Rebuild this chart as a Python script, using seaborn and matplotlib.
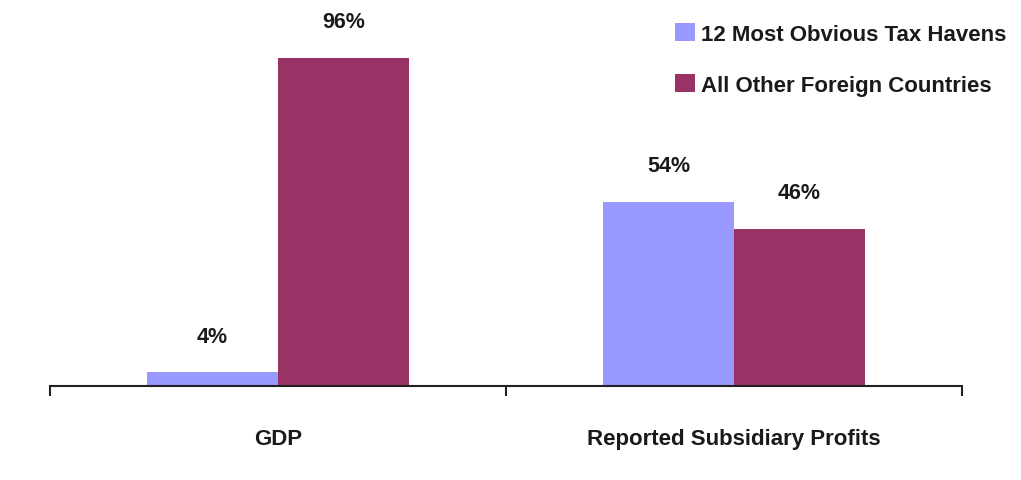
import matplotlib
matplotlib.use("Agg")
import matplotlib.pyplot as plt
import seaborn as sns
import pandas as pd

categories = ["GDP", "Reported Subsidiary Profits"]
series = ["12 Most Obvious Tax Havens", "All Other Foreign Countries"]
havens = [4, 54]
others = [96, 46]
colors = ["#9999FF", "#993366"]

df = pd.DataFrame({
    "category": categories * 2,
    "series": [series[0]] * 2 + [series[1]] * 2,
    "value": havens + others,
})

sns.set_theme(style="white")
plt.rcParams["font.family"] = ["Liberation Sans", "DejaVu Sans"]

fig = plt.figure(figsize=(10.21, 4.81), dpi=100)
ax = fig.add_axes([50 / 1021, (481 - 387) / 481, (962 - 50) / 1021, 375.8 / 481])

sns.barplot(data=df, x="category", y="value", hue="series", order=categories,
            hue_order=series, palette=colors, width=0.575, saturation=1,
            edgecolor="none", linewidth=0, ax=ax)

ax.set_xlim(-0.5, 1.5)
ax.set_ylim(0, 110)
for s in ["top", "right", "left"]:
    ax.spines[s].set_visible(False)
ax.spines["bottom"].set_color("#222222")
ax.spines["bottom"].set_linewidth(1.5)
ax.set_yticks([])
ax.set_xlabel("")
ax.set_ylabel("")
ax.set_xticks([-0.5, 0.5, 1.5], minor=True)
ax.tick_params(axis="x", which="minor", direction="out", length=7, width=1.5,
               color="#222222", bottom=True)
ax.tick_params(axis="x", which="major", length=0, pad=30)
for lab in ax.get_xticklabels():
    lab.set_fontsize(16)
    lab.set_fontweight("bold")
    lab.set_color("#1a1a1a")

for cont in ax.containers:
    for bar in cont:
        h = bar.get_height()
        ax.annotate(f"{h:.0f}%", (bar.get_x() + bar.get_width() / 2, h),
                    xytext=(0, 26), textcoords="offset points",
                    ha="center", va="center", fontsize=15.5,
                    fontweight="bold", color="#1a1a1a")

leg = ax.legend(loc="upper left", bbox_to_anchor=(675 / 1021, 1 - 24 / 481),
                bbox_transform=fig.transFigure, frameon=False,
                fontsize=16, handlelength=0.9, handleheight=0.9,
                handletextpad=0.25, labelspacing=1.3,
                borderpad=0, borderaxespad=0)
for t in leg.get_texts():
    t.set_fontweight("bold")
    t.set_color("#1a1a1a")

fig.savefig("out.png", dpi=100, facecolor="white")
